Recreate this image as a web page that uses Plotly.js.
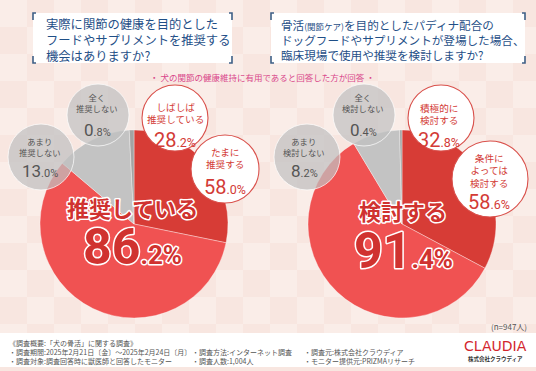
<!DOCTYPE html>
<html><head><meta charset="utf-8">
<script src="https://cdn.plot.ly/plotly-3.0.1.min.js"></script>
<style>html,body{margin:0;padding:0;background:#f8e9e4}</style>
</head><body><div id="chart" style="width:536px;height:371px"></div>
<script>
// ---------- data ----------
const leftQuestion = ["実際に関節の健康を目的とした", "フードやサプリメントを推奨する", "機会はありますか?"];
const rightQuestion = ["骨活<span style='font-size:8.5px'>(関節ケア)</span>を目的としたパディナ配合の", "ドッグフードやサプリメントが登場した場合、", "臨床現場で使用や推奨を検討しますか?"];
const subtitleText = "・ 犬の関節の健康維持に有用であると回答した方が回答 ・";
const leftCategories = [["しばしば", "推奨している"], ["たまに", "推奨する"], ["あまり", "推奨しない"], ["全く", "推奨しない"]];
const leftValues = [28.2, 58.0, 13.0, 0.8];
const rightCategories = [["積極的に", "検討する"], ["条件に", "よっては", "検討する"], ["あまり", "検討しない"], ["全く", "検討しない"]];
const rightValues = [32.8, 58.6, 8.2, 0.4];
const leftSummaryLabel = "推奨している";
const leftSummaryValue = 86.2;
const rightSummaryLabel = "検討する";
const rightSummaryValue = 91.4;
const sampleNote = "(n=947人)";
const footerHeader = "《調査概要:「犬の骨活」に関する調査》";
const footerCol1 = ["・調査期間:2025年2月21日〔金〕～2025年2月24日〔月〕", "・調査対象:調査回答時に獣医師と回答したモニター"];
const footerCol2 = ["・調査方法:インターネット調査", "・調査人数:1,004人"];
const footerCol3 = ["・調査元:株式会社クラウディア", "・モニター提供元:PRIZMAリサーチ"];
const logoText = "CLAUDIA";
const logoSub = "株式会社クラウディア";

// ---------- styles / positions ----------
const W = 536, H = 371;
const JP = "'Noto Sans CJK JP', 'Noto Sans', sans-serif";
const NUM = "Roboto, 'Noto Sans', sans-serif";
const sliceColors = ["#d73c36", "#f05252", "#c3c3c3", "#a3a3a3"];
const RED = "#d33b36";
const pies = [
  {cx: 134, cy: 224, r: 94, values: leftValues, cats: leftCategories, sumLabel: leftSummaryLabel, sumValue: leftSummaryValue,
   bubbles: [
     {cx: 175, cy: 118, r: 33, tx: 175, ly: 113, py: 140},
     {cx: 225, cy: 169, r: 34, tx: 225, ly: 158, py: 187},
     {cx: 41, cy: 157, r: 33, tx: 40, ly: 146.5, py: 171},
     {cx: 98, cy: 115, r: 31, tx: 97, ly: 102.5, py: 130}
   ], sumX: 132, sumLY: 207, sumNY: 247},
  {cx: 402, cy: 224, r: 94, values: rightValues, cats: rightCategories, sumLabel: rightSummaryLabel, sumValue: rightSummaryValue,
   bubbles: [
     {cx: 441, cy: 118, r: 33, tx: 439, ly: 113.5, py: 140},
     {cx: 490, cy: 179, r: 38, tx: 489, ly: 170, py: 202},
     {cx: 307, cy: 157, r: 33, tx: 304, ly: 146.5, py: 171},
     {cx: 364, cy: 115, r: 31, tx: 363, ly: 102.5, py: 130}
   ], sumX: 403, sumLY: 210, sumNY: 251}
];

const traces = pies.map(p => ({
  type: "pie", values: p.values, labels: p.cats.map(c => c.join("")),
  sort: false, direction: "clockwise", rotation: 0,
  marker: {colors: sliceColors, line: {color: "rgba(255,255,255,0.6)", width: 0.6}},
  textinfo: "none", hoverinfo: "none", showlegend: false,
  domain: {x: [(p.cx - p.r) / W, (p.cx + p.r) / W], y: [(H - p.cy - p.r) / H, (H - p.cy + p.r) / H]}
}));

const shapes = [];
const annotations = [];
const bigIdx = [];
function ann(o) { annotations.push(Object.assign({xref: "x", yref: "y", showarrow: false, xanchor: "center", yanchor: "middle", borderpad: 0}, o)); return annotations.length - 1; }
function pctHTML(v, big, small) {
  const parts = v.toFixed(1).split(".");
  return "<span style='font-size:" + big + "px'>" + parts[0] + "</span><span style='font-size:" + small + "px'>." + parts[1] + "%</span>";
}

// faint checker background
const cs = 27;
for (let r = 0; r * cs < 333; r++) {
  for (let c = 0; c * cs < W; c++) {
    if ((r + c) % 2 === 0) shapes.push({type: "rect", xref: "x", yref: "y", x0: c * cs, x1: (c + 1) * cs, y0: r * cs, y1: Math.min((r + 1) * cs, 333), fillcolor: "rgba(255,255,255,0.28)", line: {width: 0}, layer: "below"});
  }
}
// footer white band
shapes.push({type: "rect", xref: "x", yref: "y", x0: 0, x1: W, y0: 333, y1: 367, fillcolor: "#ffffff", line: {width: 0}, layer: "below"});

// question boxes
const boxes = [{x0: 33, x1: 232, y0: 13, y1: 63, tx: 45, fs: 12.3, lines: leftQuestion}, {x0: 271, x1: 525, y0: 13, y1: 63, tx: 280, fs: 11.6, lines: rightQuestion}];
boxes.forEach(b => {
  shapes.push({type: "rect", xref: "x", yref: "y", x0: b.x0, x1: b.x1, y0: b.y0, y1: b.y1, fillcolor: "#ffffff", line: {width: 0}, layer: "below"});
  const c = "#3e5f86", s = 7, h = 3;
  [[b.x0, b.y0, 1, 1], [b.x1, b.y0, -1, 1], [b.x0, b.y1, 1, -1], [b.x1, b.y1, -1, -1]].forEach(([x, y, dx, dy]) => {
    shapes.push({type: "path", xref: "x", yref: "y", path: `M${x + dx * h},${y} L${x},${y} L${x},${y + dy * s}`, line: {color: c, width: 1.6}, layer: "above"});
  });
  ann({x: b.tx, y: 40, xanchor: "left", align: "left", text: b.lines.join("<br>"), font: {family: JP, size: b.fs, color: "#1f4f87"}});
});
ann({x: 262, y: 77, text: subtitleText, font: {family: JP, size: 8.5, color: "#d9468a"}});

// bubbles
pies.forEach(p => {
  p.bubbles.forEach((b, i) => {
    const gray = i >= 2;
    shapes.push({type: "circle", xref: "x", yref: "y", x0: b.cx - b.r, x1: b.cx + b.r, y0: b.cy - b.r, y1: b.cy + b.r,
      fillcolor: gray ? "rgba(192,192,192,0.72)" : "#ffffff",
      line: {color: gray ? "rgba(255,255,255,0.7)" : "#d9514c", width: gray ? 1 : 1.1}, layer: "above"});
    const fs = gray ? 8.3 : 9.6;
    ann({x: b.tx, y: b.ly, text: p.cats[i].join("<br>"), font: {family: JP, size: fs, color: gray ? "#555555" : RED}});
    ann({x: b.tx, y: b.py, text: pctHTML(p.values[i], gray ? 17 : 20, gray ? 11 : 12.5), font: {family: NUM, size: 14, color: gray ? "#555555" : RED}});
  });
  bigIdx.push(ann({x: p.sumX, y: p.sumLY, text: "<b>" + p.sumLabel + "</b>", font: {family: JP, size: 22, color: "#d0322f"}}));
  bigIdx.push(ann({x: p.sumX, y: p.sumNY, text: "<b>" + pctHTML(p.sumValue, 50, 26) + "</b>", font: {family: NUM, size: 40, color: "#d0322f"}}));
});

// notes & footer
ann({x: 528, y: 326, xanchor: "right", text: sampleNote, font: {family: JP, size: 8, color: "#555555"}});
ann({x: 8, y: 343, xanchor: "left", text: footerHeader, font: {family: JP, size: 7, color: "#555555"}});
ann({x: 8, y: 356.5, xanchor: "left", align: "left", text: footerCol1.join("<br>"), font: {family: JP, size: 7, color: "#555555"}});
ann({x: 191, y: 356.5, xanchor: "left", align: "left", text: footerCol2.join("<br>"), font: {family: JP, size: 7, color: "#555555"}});
ann({x: 303, y: 356.5, xanchor: "left", align: "left", text: footerCol3.join("<br>"), font: {family: JP, size: 7, color: "#555555"}});
ann({x: 495, y: 346, text: logoText, font: {family: "'DejaVu Sans', sans-serif", size: 14, color: "#d3262d"}});
ann({x: 495, y: 358.5, text: "<b>" + logoSub + "</b>", font: {family: JP, size: 5.5, color: "#333333"}});

const layout = {
  width: W, height: H, margin: {l: 0, r: 0, t: 0, b: 0},
  paper_bgcolor: "#f8e6e0", plot_bgcolor: "rgba(0,0,0,0)",
  xaxis: {range: [0, W], visible: false, fixedrange: true},
  yaxis: {range: [H, 0], visible: false, fixedrange: true},
  shapes: shapes, annotations: annotations, showlegend: false
};
Plotly.newPlot("chart", traces, layout, {displayModeBar: false, staticPlot: true}).then(() => {
  bigIdx.forEach(i => {
    document.querySelectorAll('.annotation[data-index="' + i + '"] text').forEach(t => {
      t.style.stroke = "#ffffff"; t.style.strokeWidth = "3px"; t.style.paintOrder = "stroke fill"; t.style.strokeLinejoin = "round";
    });
  });
});
</script></body></html>
